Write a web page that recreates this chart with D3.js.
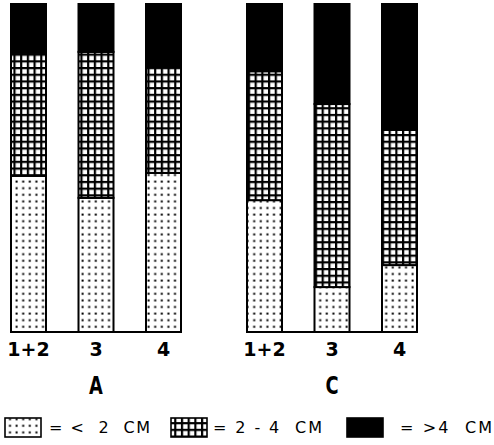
<!DOCTYPE html>
<html><head><meta charset="utf-8">
<script src="https://cdn.jsdelivr.net/npm/d3@7"></script>
<style>
html,body{margin:0;padding:0;background:#fff;}
svg{display:block;}
</style></head>
<body>
<script>
// Data (percent of each bar)
const groups = ["A", "C"];
const positions = ["1+2", "3", "4"];
const under2cm   = [47.6, 40.9, 48.5, 40.2, 13.7, 20.4];
const from2to4cm = [37.5, 44.5, 32.6, 39.3, 55.8, 41.2];
const over4cm    = [14.9, 14.6, 18.9, 20.5, 30.5, 38.4];
const seriesKeys = ["under2", "from2to4", "over4"];
const legendLabels = ["= <  2  CM", "= 2 - 4  CM", "= >4  CM"];

const rows = [];
groups.forEach((g, gi) => positions.forEach((p, pi) => {
  const i = gi * positions.length + pi;
  rows.push({group: g, pos: p, under2: under2cm[i], from2to4: from2to4cm[i], over4: over4cm[i]});
}));

const W = 494, H = 445;
const svg = d3.select("body").append("svg").attr("width", W).attr("height", H);

const defs = svg.append("defs");
// stipple pattern
const st = defs.append("pattern").attr("id", "stipple").attr("patternUnits", "userSpaceOnUse")
  .attr("width", 6.6).attr("height", 6.6);
st.append("rect").attr("width", 6.6).attr("height", 6.6).attr("fill", "#fff");
st.append("rect").attr("x", 2.4).attr("y", 2.4).attr("width", 2).attr("height", 2).attr("fill", "#000");
// grid pattern
const gr = defs.append("pattern").attr("id", "grid").attr("patternUnits", "userSpaceOnUse")
  .attr("width", 6.7).attr("height", 6.7);
gr.append("rect").attr("width", 6.7).attr("height", 6.7).attr("fill", "#fff");
gr.append("rect").attr("x", 0).attr("y", 0).attr("width", 6.7).attr("height", 2.2).attr("fill", "#000");
gr.append("rect").attr("x", 0).attr("y", 0).attr("width", 2.2).attr("height", 6.7).attr("fill", "#000");

const fills = {under2: "url(#stipple)", from2to4: "url(#grid)", over4: "#000"};

const xGroup = d3.scaleBand().domain(groups).range([11, 417]).paddingInner(66 / 236).paddingOuter(0);
const xPos = d3.scaleBand().domain(positions).range([0, xGroup.bandwidth()]).paddingInner(1 - 35 / 67.5).paddingOuter(0);
const y = d3.scaleLinear().domain([0, 100]).range([332, 4]);

const stack = d3.stack().keys(seriesKeys);
const stacked = stack(rows);

const barX = d => xGroup(d.data.group) + xPos(d.data.pos);

stacked.forEach(s => {
  svg.append("g").selectAll("rect").data(s).join("rect")
    .attr("x", barX)
    .attr("y", d => y(d[1]))
    .attr("width", xPos.bandwidth())
    .attr("height", d => y(d[0]) - y(d[1]))
    .attr("fill", fills[s.key])
    .attr("stroke", "#000")
    .attr("stroke-width", 2);
});

// baseline per group
groups.forEach(g => {
  svg.append("line")
    .attr("x1", xGroup(g)).attr("x2", xGroup(g) + xGroup.bandwidth())
    .attr("y1", y(0)).attr("y2", y(0))
    .attr("stroke", "#000").attr("stroke-width", 2);
});

// axis labels
groups.forEach(g => {
  const gAxis = svg.append("g").attr("transform", `translate(${xGroup(g)},${y(0)})`)
    .call(d3.axisBottom(xPos).tickSize(0).tickPadding(11));
  gAxis.select(".domain").remove();
  gAxis.selectAll("text").attr("font-family", "DejaVu Sans").attr("font-weight", "bold")
    .attr("font-size", 19).attr("fill", "#000");
  const cx = xGroup(g) + xPos("3") + xPos.bandwidth() / 2;
  svg.append("text")
    .attr("transform", `translate(${cx},394) scale(0.85,1.15)`)
    .attr("text-anchor", "middle")
    .attr("font-family", "DejaVu Sans").attr("font-weight", "bold").attr("font-size", 21).attr("fill", "#000")
    .text(g);
});

// legend
const legX = [5, 171, 347];
const legTextX = [49, 213, 400];
const legTextW = [101, 109, 92];
seriesKeys.forEach((k, i) => {
  svg.append("rect").attr("x", legX[i]).attr("y", 418).attr("width", 36).attr("height", 19)
    .attr("fill", fills[k]).attr("stroke", "#000").attr("stroke-width", 1.6);
  svg.append("text").attr("x", legTextX[i]).attr("y", 433)
    .attr("font-family", "DejaVu Sans").attr("font-size", 16).attr("fill", "#000")
    .attr("textLength", legTextW[i]).attr("lengthAdjust", "spacing")
    .attr("xml:space", "preserve").style("white-space", "pre")
    .text(legendLabels[i]);
});
</script>
</body></html>
